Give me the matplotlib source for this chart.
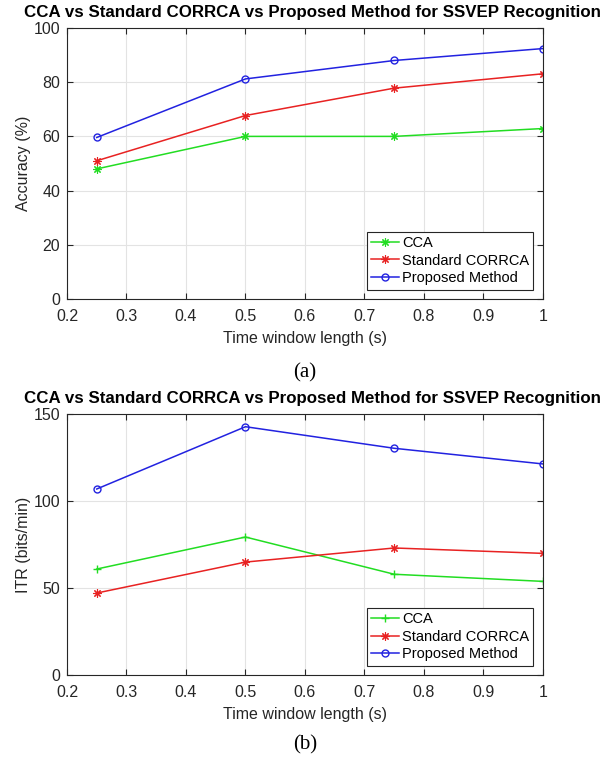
import matplotlib
matplotlib.use("Agg")
import matplotlib.pyplot as plt

plt.rcParams['font.family'] = ['Liberation Sans', 'DejaVu Sans']

time_window = [0.25, 0.5, 0.75, 1.0]
series_names = ["CCA", "Standard CORRCA", "Proposed Method"]

acc_cca = [48.0, 60.0, 60.0, 62.9]
acc_corrca = [51.0, 67.7, 77.8, 83.1]
acc_proposed = [59.6, 81.2, 88.0, 92.4]

itr_cca = [60.9, 79.3, 57.9, 53.8]
itr_corrca = [47.1, 64.9, 73.0, 69.9]
itr_proposed = [106.9, 142.7, 130.3, 121.3]

x_ticks = [0.2, 0.3, 0.4, 0.5, 0.6, 0.7, 0.8, 0.9, 1.0]
x_ticklabels = ["0.2", "0.3", "0.4", "0.5", "0.6", "0.7", "0.8", "0.9", "1"]
acc_ticks = [0, 20, 40, 60, 80, 100]
itr_ticks = [0, 50, 100, 150]

title = "CCA vs Standard CORRCA vs Proposed Method for SSVEP Recognition"
xlabel = "Time window length (s)"

GREEN = '#22dd22'
RED = '#e82222'
BLUE = '#2222e0'
DARK = '#262626'
ASTER = (8, 2, 0)

fig = plt.figure(figsize=(6.09, 7.64), dpi=100)
ax1 = fig.add_axes([0.110, 0.6086, 0.7816, 0.3548])
ax2 = fig.add_axes([0.110, 0.1165, 0.7816, 0.3416])


def style(ax, yticks, ylim, ylabel):
    ax.set_xlim(0.2, 1.0)
    ax.set_ylim(*ylim)
    ax.set_xticks(x_ticks)
    ax.set_xticklabels(x_ticklabels)
    ax.set_yticks(yticks)
    ax.grid(True, color='#e3e3e3', linewidth=0.8)
    ax.set_axisbelow(True)
    ax.tick_params(direction='in', length=4, width=0.8, colors=DARK,
                   labelsize=11.5, top=True, right=True)
    ax.tick_params(axis='x', pad=7)
    ax.tick_params(axis='y', pad=5)
    for s in ax.spines.values():
        s.set_color(DARK)
        s.set_linewidth(0.8)
    ax.set_xlabel(xlabel, fontsize=11.5, color=DARK, labelpad=5)
    ax.set_ylabel(ylabel, fontsize=11.5, color=DARK, labelpad=2)
    ax.set_title(title, fontsize=12.2, fontweight='bold', pad=8, x=0.515)


ax1.plot(time_window, acc_cca, color=GREEN, marker=ASTER, ms=6, mew=0.8, lw=1.1, label=series_names[0])
ax1.plot(time_window, acc_corrca, color=RED, marker=ASTER, ms=6, mew=0.8, lw=1.1, label=series_names[1])
ax1.plot(time_window, acc_proposed, color=BLUE, marker='o', ms=5, mfc='none', lw=1.1, label=series_names[2])
style(ax1, acc_ticks, (0, 100), "Accuracy (%)")

ax2.plot(time_window, itr_cca, color=GREEN, marker='+', ms=6, lw=1.1, label=series_names[0])
ax2.plot(time_window, itr_corrca, color=RED, marker=ASTER, ms=6, mew=0.8, lw=1.1, label=series_names[1])
ax2.plot(time_window, itr_proposed, color=BLUE, marker='o', ms=5, mfc='none', lw=1.1, label=series_names[2])
style(ax2, itr_ticks, (0, 150), "ITR (bits/min)")

for ax in (ax1, ax2):
    leg = ax.legend(loc='lower right', bbox_to_anchor=(0.98, 0.035), fontsize=10.5,
                    frameon=True, fancybox=False, edgecolor=DARK, framealpha=1,
                    borderpad=0.3, labelspacing=0.25, handlelength=1.9,
                    handletextpad=0.2, borderaxespad=0)
    leg.get_frame().set_linewidth(0.8)

fig.text(305 / 609, 1 - 373 / 764, "(a)", ha='center', va='center',
         fontsize=15, family='Liberation Serif')
fig.text(305 / 609, 1 - 745 / 764, "(b)", ha='center', va='center',
         fontsize=15, family='Liberation Serif')

fig.savefig("out.png", dpi=100)
